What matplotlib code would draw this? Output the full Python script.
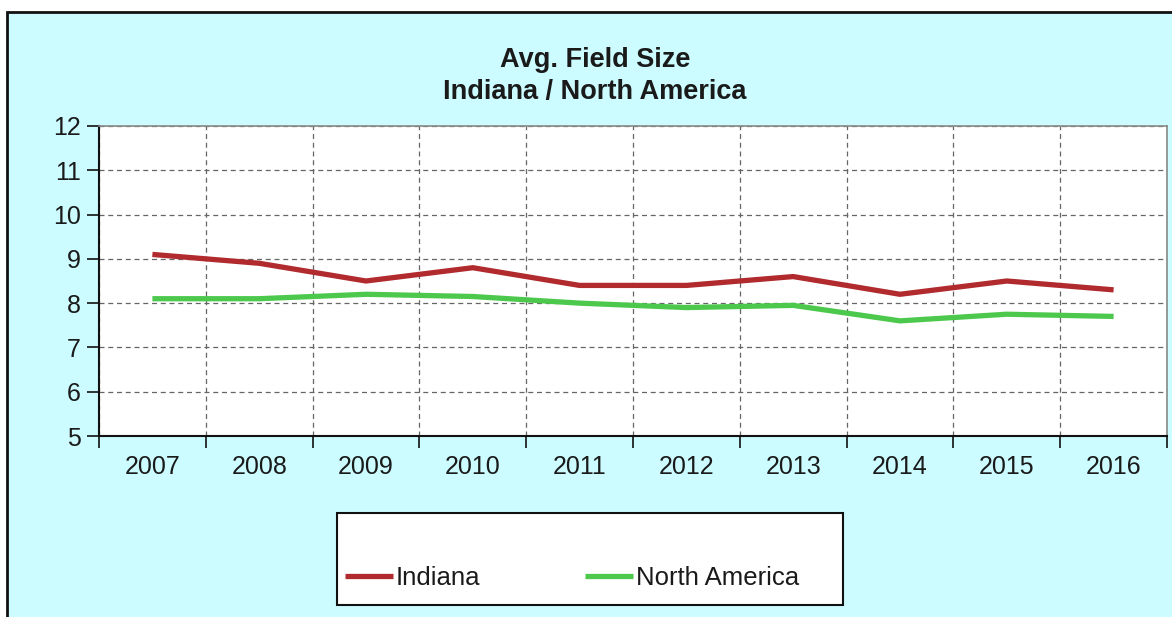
import matplotlib
matplotlib.use("Agg")
import matplotlib.pyplot as plt
from matplotlib.patches import Rectangle
from matplotlib.lines import Line2D

years = ["2007", "2008", "2009", "2010", "2011", "2012", "2013", "2014", "2015", "2016"]
indiana = [9.1, 8.9, 8.5, 8.8, 8.4, 8.4, 8.6, 8.2, 8.5, 8.3]
north_america = [8.1, 8.1, 8.2, 8.15, 8.0, 7.9, 7.95, 7.6, 7.75, 7.7]
title_lines = ["Avg. Field Size", "Indiana / North America"]
series_names = ["Indiana", "North America"]
y_ticks = [5, 6, 7, 8, 9, 10, 11, 12]

plt.rcParams['font.family'] = ['Liberation Sans', 'DejaVu Sans']

W, H = 1172, 617
fig = plt.figure(figsize=(W / 100, H / 100), dpi=100)
fig.patch.set_facecolor("white")

bg = "#CCFCFF"
fig.patches.append(Rectangle((7 / W, -0.1), 1.2, 1.1 - 12 / H, transform=fig.transFigure,
                             facecolor=bg, edgecolor="#111111", linewidth=2, zorder=-5))

ax = fig.add_axes([99 / W, 1 - 436 / H, (1167 - 99) / W, (436 - 126) / H])
ax.set_zorder(2)
ax.set_facecolor("white")

x = list(range(len(years)))
red = "#B02A2E"
green = "#4CC94C"
ax.plot(x, indiana, color=red, linewidth=3.8, solid_capstyle="butt", zorder=3)
ax.plot(x, north_america, color=green, linewidth=3.8, solid_capstyle="butt", zorder=3)

ax.set_xlim(-0.5, len(years) - 0.5)
ax.set_ylim(5, 12)
ax.set_yticks(y_ticks)
ax.set_xticks([i - 0.5 for i in range(len(years) + 1)])
ax.set_xticklabels([])
ax.set_xticks(x, minor=True)
ax.set_xticklabels(years, minor=True)

ax.tick_params(axis="x", which="major", length=8.6, width=1.2, color="#111111")
ax.tick_params(axis="x", which="minor", length=0, pad=13.5, labelsize=18, labelcolor="#1a1a1a")
ax.tick_params(axis="y", which="major", length=8.6, width=1.2, color="#111111", pad=4.3,
               labelsize=18, labelcolor="#1a1a1a")

ax.grid(True, which="major", axis="both", linestyle=(0, (4, 3)), color="#666666", linewidth=0.9)
ax.set_axisbelow(True)

for s in ["left", "bottom"]:
    ax.spines[s].set_color("#111111")
    ax.spines[s].set_linewidth(1.5)
for s in ["top", "right"]:
    ax.spines[s].set_color("#888888")
    ax.spines[s].set_linewidth(1.2)

fig.text(595 / W, 1 - 67 / H, title_lines[0], ha="center", va="baseline",
         fontsize=19.5, fontweight="bold", color="#1a1a1a")
fig.text(595 / W, 1 - 99 / H, title_lines[1], ha="center", va="baseline",
         fontsize=19.5, fontweight="bold", color="#1a1a1a")

# legend box
fig.patches.append(Rectangle((337 / W, 1 - 605 / H), (843 - 337) / W, (605 - 513) / H,
                             transform=fig.transFigure, facecolor="white",
                             edgecolor="#111111", linewidth=1.5, zorder=1))
handles = [Line2D([], [], color=red, linewidth=3.8, solid_capstyle="butt"),
           Line2D([], [], color=green, linewidth=3.8, solid_capstyle="butt")]
leg = fig.legend(handles, series_names, loc="center left",
                 bbox_to_anchor=(345 / W, 1 - 578 / H), bbox_transform=fig.transFigure,
                 ncol=2, frameon=False, fontsize=18.5, handlelength=1.85, handletextpad=0.12,
                 columnspacing=4.1, borderaxespad=0, borderpad=0)
for t in leg.get_texts():
    t.set_color("#1a1a1a")
leg.set_zorder(5)

fig.savefig("out.png", dpi=100, facecolor=fig.get_facecolor())
